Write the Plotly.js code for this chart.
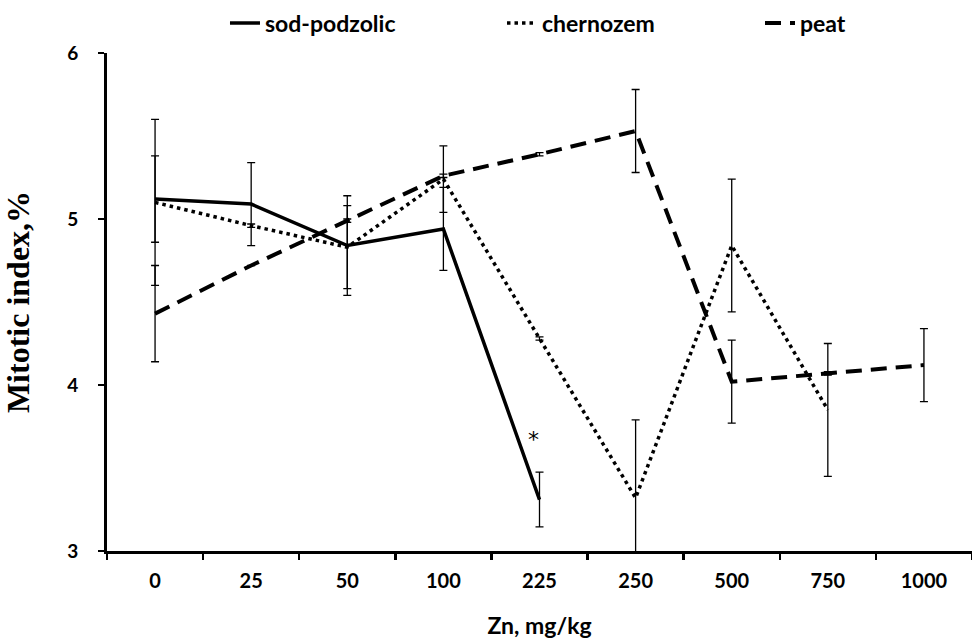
<!DOCTYPE html>
<html>
<head>
<meta charset="utf-8">
<script src="https://cdn.plot.ly/plotly-3.0.1.min.js"></script>
<style>html,body{margin:0;padding:0;background:#fff;}</style>
</head>
<body>
<div id="chart" style="width:972px;height:639px;"></div>
<script>
const categories = ['0', '25', '50', '100', '225', '250', '500', '750', '1000'];

const sodPodzolic    = [5.12, 5.09, 4.84, 4.94, 3.31, null, null, null, null];
const sodPodzolicErr = [0.26, 0.25, 0.30, 0.25, 0.165, null, null, null, null];

const chernozem    = [5.10, 4.96, 4.83, 5.24, 4.28, 3.32, 4.84, 3.85, null];
const chernozemErr = [0.50, 0.01, 0.25, 0.20, 0.01, 0.47, 0.40, 0.40, null];

const peat    = [4.43, 4.72, 4.99, 5.26, 5.39, 5.53, 4.02, 4.07, 4.12];
const peatErr = [0.29, null, 0.01, 0.01, 0.01, 0.25, 0.25, 0.01, 0.22];

const yTicks = [3, 4, 5, 6];

function errSpec(arr) {
  return {type: 'data', array: arr, visible: true, color: '#000', thickness: 1.3, width: 4};
}

const traces = [
  {
    name: 'sod-podzolic', x: categories, y: sodPodzolic, type: 'scatter', mode: 'lines',
    line: {color: '#000', width: 3.5},
    error_y: errSpec(sodPodzolicErr), legendwidth: 232
  },
  {
    name: 'chernozem', x: categories, y: chernozem, type: 'scatter', mode: 'lines',
    line: {color: '#000', width: 3.5, dash: '3.5px,4px'},
    error_y: errSpec(chernozemErr), legendwidth: 213
  },
  {
    name: 'peat', x: categories, y: peat, type: 'scatter', mode: 'lines',
    line: {color: '#000', width: 4, dash: '16px,9px'},
    error_y: errSpec(peatErr), legendwidth: 60
  }
];

const sans = 'Lato, "Open Sans", sans-serif';

const layout = {
  width: 972, height: 639,
  margin: {l: 107, r: 0, t: 53, b: 88, autoexpand: false},
  paper_bgcolor: '#fff', plot_bgcolor: '#fff',
  showlegend: true,
  legend: {
    orientation: 'h', x: 0.1364, xanchor: 'left', y: 1.06, yanchor: 'middle',
    font: {family: sans, size: 23, weight: 'bold', color: '#000'},
    entrywidthmode: 'pixels', bgcolor: 'rgba(0,0,0,0)'
  },
  xaxis: {
    type: 'category', categoryorder: 'array', categoryarray: categories,
    range: [-0.5, 8.5],
    showline: true, linecolor: '#000', linewidth: 3,
    ticks: 'outside', tickson: 'boundaries', ticklen: 6, tickwidth: 2.5, tickcolor: '#000',
    showgrid: false, zeroline: false,
    tickfont: {family: sans, size: 20, weight: 'bold', color: '#000'},
    ticklabelstandoff: 10,
    title: {text: 'Zn, mg/kg', font: {family: sans, size: 23, weight: 'bold', color: '#000'}, standoff: 28}
  },
  yaxis: {
    range: [3, 6], tickvals: yTicks, ticktext: yTicks.map(String),
    showline: true, linecolor: '#000', linewidth: 3,
    ticks: 'outside', ticklen: 6, tickwidth: 2.5, tickcolor: '#000',
    showgrid: false, zeroline: false,
    tickfont: {family: sans, size: 19, weight: 'bold', color: '#000'},
    ticklabelstandoff: 16,
    title: {text: 'Mitotic index,%', font: {family: '"Liberation Serif", "Times New Roman", serif', size: 32, weight: 'bold', color: '#000'}, standoff: 28}
  },
  annotations: [
    {x: categories.indexOf('225'), y: 3.67, xref: 'x', yref: 'y', text: '*', showarrow: false, xshift: -6,
     font: {family: '"DejaVu Sans", sans-serif', size: 22, color: '#000'}}
  ]
};

Plotly.newPlot('chart', traces, layout, {displayModeBar: false, staticPlot: true});
</script>
</body>
</html>
